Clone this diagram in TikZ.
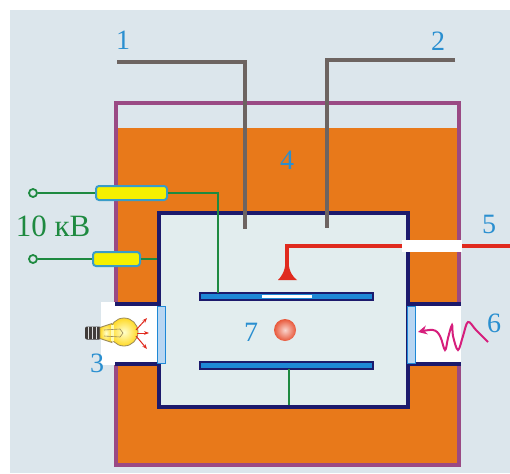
\documentclass[tikz,border=0pt]{standalone}
\usepackage{fontspec}
\setmainfont{Liberation Serif}
\usetikzlibrary{arrows.meta}

\definecolor{bgblue}{HTML}{DCE6EC}
\definecolor{oil}{HTML}{E8791A}
\definecolor{vessel}{HTML}{9A4A84}
\definecolor{navy}{HTML}{1C1A6C}
\definecolor{cell}{HTML}{E2EDEE}
\definecolor{rod}{HTML}{6D6461}
\definecolor{plate}{HTML}{1E88D6}
\definecolor{numblue}{HTML}{2A8FD0}
\definecolor{wire}{HTML}{1E8A40}
\definecolor{resist}{HTML}{F6F000}
\definecolor{resedge}{HTML}{3A9CC8}
\definecolor{jet}{HTML}{E02A1E}
\definecolor{ray}{HTML}{D61E7C}
\definecolor{glass}{HTML}{B8D6F2}
\definecolor{drop}{HTML}{E8583A}
\definecolor{bulbedge}{HTML}{9A8A5A}

\tikzset{
  num/.style={text=numblue, font=\fontsize{28}{30}\selectfont, inner sep=0pt},
  rodline/.style={draw=rod, line width=4.5pt},
  wireline/.style={draw=wire, line width=1.8pt},
  resistor/.style={fill=resist, draw=resedge, line width=2pt, rounded corners=3pt},
  terminal/.style={circle, draw=wire, fill=bgblue, line width=1.8pt, minimum size=8pt, inner sep=0pt},
  platebox/.style={fill=plate, draw=navy, line width=1.2pt},
  glasspane/.style={fill=glass, draw=plate, line width=1pt},
  navyline/.style={draw=navy, line width=4.5pt},
  lightray/.style={draw=jet, line width=1pt, -{Stealth[length=5pt]}},
  bulbglass/.style={inner color=yellow!20!white, outer color=yellow!65!orange!85!white},
}

\begin{document}
\begin{tikzpicture}[x=1pt,y=-1pt]
\useasboundingbox (0,0) rectangle (510,473);
\fill[white] (0,0) rectangle (510,473);
\fill[bgblue] (10,10) rectangle (510,473);

% oil bath and its vessel
\fill[oil] (118,128) rectangle (457,463);
\draw[vessel, line width=4pt] (116,103) rectangle (459,465);

% side openings through the bath
\fill[white] (101,302) rectangle (160,365);
\fill[white] (408,302) rectangle (461,365);
\draw[navyline, line width=4pt] (115,303.5) -- (160,303.5) (115,364) -- (160,364);
\draw[navyline, line width=4pt] (408,303.5) -- (461,303.5) (408,364) -- (461,364);

% condenser chamber
\filldraw[fill=cell, navyline] (159,213) rectangle (408,407);

% windows
\draw[glasspane] (157,306) rectangle (165,363);
\draw[glasspane] (407,306) rectangle (415,363);

% channel for the sprayer tube
\fill[white] (402,240) rectangle (462,252);
\draw[jet, line width=4pt] (462,246) -- (510,246);
\draw[jet, line width=4pt] (402,246) -- (287,246) -- (287,266);
\fill[jet] (285.5,262) .. controls (285,272) and (281,277) .. (278,280) -- (297,280)
  .. controls (293,277) and (289,272) .. (288.5,262) -- cycle;

% electrodes leading out
\draw[rodline] (117,62) -- (245,62) -- (245,229);
\draw[rodline] (455,60) -- (327,60) -- (327,228);

% capacitor plates
\draw[platebox] (200,293) rectangle (373,300);
\fill[white] (262,294.6) rectangle (312,298.4);
\draw[platebox] (200,362) rectangle (373,369);

% supply wiring
\node[terminal] (t1) at (33,193) {};
\node[terminal] (t2) at (33,259) {};
\node[resistor, minimum width=71pt, minimum height=14pt] (r1) at (131.5,193) {};
\node[resistor, minimum width=47pt, minimum height=14pt] (r2) at (116.5,259) {};
\coordinate (bend) at (218,193);
\coordinate (topplate) at (218,293);
\coordinate (wallpt) at (157,259);
\coordinate (lowplate) at (289,369);
\coordinate (floorpt) at (289,405);
\draw[wireline] (t1) -- (r1.west);
\draw[wireline] (r1.east) -- (bend) -- (topplate);
\draw[wireline] (t2) -- (r2.west);
\draw[wireline] (r2.east) -- (wallpt);
\draw[wireline] (lowplate) -- (floorpt);

% charged droplet
\shade[inner color=drop!25!white, outer color=drop] (285,330) circle (11);

% lamp: screw base, neck and glass bulb
\fill[rod!60!black, rounded corners=2pt] (85,326.5) rectangle (101,339.5);
\foreach \xx in {88.5,92.5,96.5} \draw[white!75!gray, line width=1.2pt] (\xx,327) -- (\xx,339);
\shade[bulbglass, draw=bulbedge, line width=0.8pt] (124,332) circle (14);
\shade[bulbglass, draw=bulbedge, line width=0.8pt]
  (100,327.5) -- (112,323.5) -- (112,342.5) -- (100,338.5) -- cycle;
\fill[yellow!30!white] (111.4,324.8) rectangle (114,341.2);
\draw[bulbedge, line width=0.6pt] (104,330) -- (120,329) -- (123,333) -- (120,337) -- (104,336);
\draw[lightray] (136,330) -- (147,318);
\draw[lightray] (137,333) -- (149,333);
\draw[lightray] (136,336) -- (147,349);

% radiation
\draw[ray, line width=2pt, -{Stealth[length=9pt,width=9pt]}]
  plot[smooth, tension=0.6] coordinates {(488,342) (476,330) (468,322) (463,336) (458,350) (453,336) (452,325) (448,338) (445,350) (440,336) (433,330) (418,332)};

% labels
\node[num] (n1) at (123,40) {1};
\node[num] (n2) at (438,41) {2};
\node[num] (n3) at (97,363) {3};
\node[num] (n4) at (287,160) {4};
\node[num] (n5) at (489,224) {5};
\node[num] (n6) at (494,323) {6};
\node[num] (n7) at (251,332) {7};
\node[text=wire, font=\fontsize{31}{33}\selectfont, inner sep=0pt] (kv) at (53,226) {10 кВ};
\end{tikzpicture}
\end{document}
